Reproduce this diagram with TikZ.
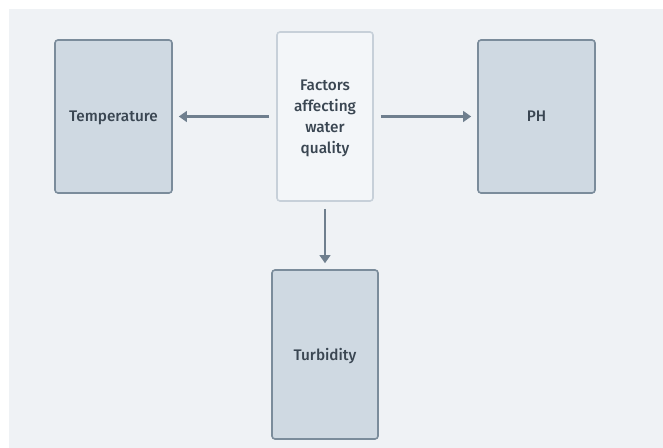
\documentclass[tikz,border=0pt]{standalone}
\usepackage{fontspec}
\setmainfont{Fira Sans}[UprightFont=* Medium]
\usetikzlibrary{arrows.meta}

\definecolor{bgcol}{RGB}{239,242,245}
\definecolor{boxfill}{RGB}{207,217,226}
\definecolor{boxline}{RGB}{123,140,155}
\definecolor{mainfill}{RGB}{243,246,249}
\definecolor{mainline}{RGB}{199,208,217}
\definecolor{arrcol}{RGB}{111,127,142}
\definecolor{txtcol}{RGB}{58,70,82}

\tikzset{every picture/.style={line width=0.75pt}}
\tikzset{
  factorbox/.style={draw=boxline, fill=boxfill, line width=1.2pt, rounded corners=2.25pt,
    text=txtcol, font=\fontsize{11.5}{15.75}\selectfont, align=center, inner sep=0pt, text depth=0pt},
  mainbox/.style={factorbox, draw=mainline, fill=mainfill},
  arr/.style={draw=arrcol, line width=2.2pt, -{Triangle[length=6pt,width=8pt]}}
}

\begin{document}
\begin{tikzpicture}[x=0.75pt,y=0.75pt,yscale=-1,xscale=1]
\useasboundingbox (0,0) rectangle (663,448);
%Background
\fill [bgcol] (9,9) rectangle (663,448);

% Centre box
\node [mainbox, minimum width=72pt, minimum height=126.75pt] (factors) at (325,116.5) {Factors\\affecting\\water\\quality};
% Factor boxes
\node [factorbox, minimum width=87.75pt, minimum height=114.75pt] (temp) at (113.5,116.5) {Temperature};
\node [factorbox, minimum width=87.75pt, minimum height=114.75pt] (ph) at (536.5,116.5) {PH};
\node [factorbox, minimum width=79.5pt, minimum height=126.75pt] (turb) at (325,354.5) {Turbidity};

% Arrows
\draw [arr, shorten <=5.25pt, shorten >=4.5pt] (factors) -- (temp);
\draw [arr, shorten <=5.25pt, shorten >=4.5pt] (factors) -- (ph);
\draw [arr, shorten <=5.25pt, shorten >=4.5pt] (factors) -- (turb);

\end{tikzpicture}
\end{document}
